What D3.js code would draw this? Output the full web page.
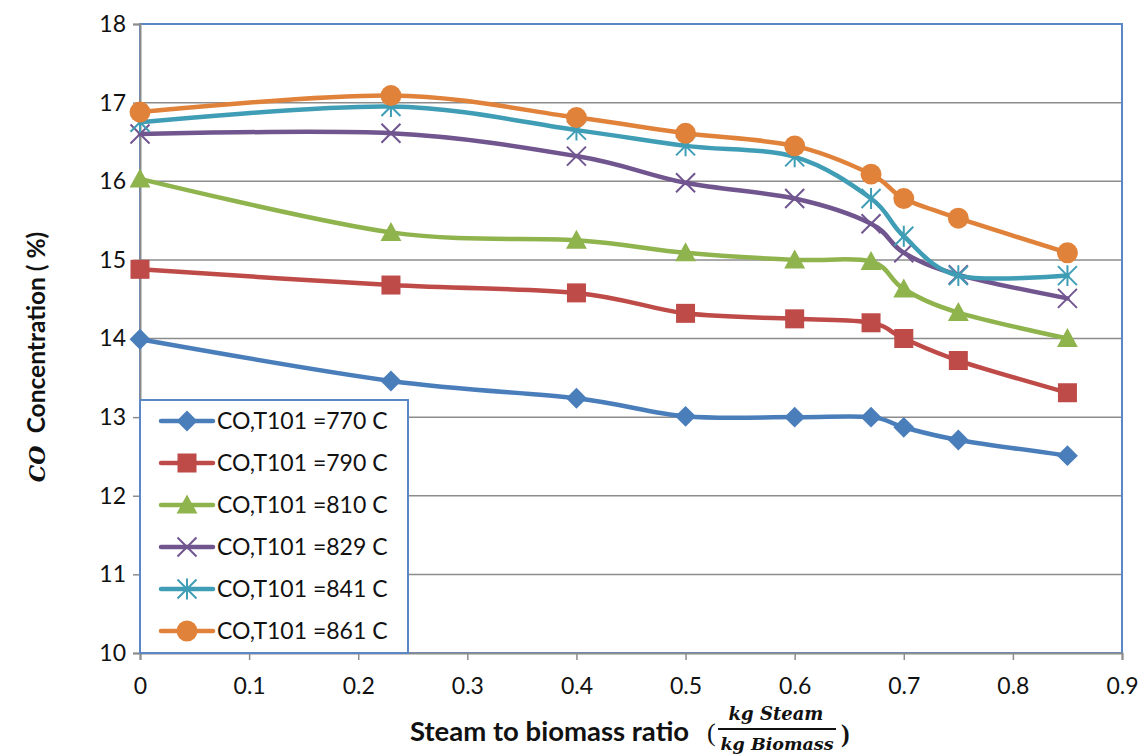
<!DOCTYPE html>
<html>
<head>
<meta charset="utf-8">
<script src="https://cdn.jsdelivr.net/npm/d3@7"></script>
<style>
  html, body { margin: 0; padding: 0; background: #fff; }
  svg { display: block; }
  .tick text { font-family: Lato, "Open Sans", sans-serif; font-size: 23px; fill: #111; }
</style>
</head>
<body>
<svg id="chart" width="1142" height="755"></svg>
<script>
// Steam-to-biomass ratio (x) and CO concentration (%) for each reactor temperature
const ratios = [0, 0.23, 0.4, 0.5, 0.6, 0.67, 0.7, 0.75, 0.85];
const seriesNames = ["CO,T101 =770 C", "CO,T101 =790 C", "CO,T101 =810 C",
                     "CO,T101 =829 C", "CO,T101 =841 C", "CO,T101 =861 C"];
const co770 = [13.99, 13.46, 13.24, 13.01, 13.0, 13.0, 12.87, 12.71, 12.51];
const co790 = [14.88, 14.68, 14.58, 14.32, 14.25, 14.2, 14.0, 13.72, 13.31];
const co810 = [16.03, 15.35, 15.25, 15.09, 15.0, 14.98, 14.63, 14.33, 14.0];
const co829 = [16.6, 16.61, 16.32, 15.98, 15.78, 15.46, 15.09, 14.81, 14.51];
const co841 = [16.75, 16.95, 16.65, 16.45, 16.31, 15.78, 15.3, 14.8, 14.8];
const co861 = [16.88, 17.09, 16.81, 16.61, 16.45, 16.09, 15.78, 15.53, 15.09];
const xTicks = [0, 0.1, 0.2, 0.3, 0.4, 0.5, 0.6, 0.7, 0.8, 0.9];
const yTicks = [10, 11, 12, 13, 14, 15, 16, 17, 18];

const colors = ["#4a7ebb", "#be4b48", "#8fb34d", "#70558f", "#3f9db5", "#e0823a"];
const symbols = ["diamond", "square", "triangle", "cross", "star", "circle"];
const allSeries = [co770, co790, co810, co829, co841, co861];

const svg = d3.select("#chart");
const m = { left: 140, right: 1122, top: 24, bottom: 653 };

const x = d3.scaleLinear().domain([0, 0.9]).range([m.left, m.right]);
const y = d3.scaleLinear().domain([10, 18]).range([m.bottom, m.top]);

// horizontal gridlines
svg.append("g")
  .selectAll("line")
  .data(yTicks.slice(1))
  .join("line")
  .attr("x1", m.left).attr("x2", m.right)
  .attr("y1", d => y(d)).attr("y2", d => y(d))
  .attr("stroke", "#8c8c8c").attr("stroke-width", 1.5);

// plot area frame
svg.append("rect")
  .attr("x", m.left).attr("y", m.top)
  .attr("width", m.right - m.left).attr("height", m.bottom - m.top)
  .attr("fill", "none").attr("stroke", "#5b87c4").attr("stroke-width", 2);

// axes
const xAxis = svg.append("g")
  .attr("transform", `translate(0,${m.bottom})`)
  .call(d3.axisBottom(x).tickValues(xTicks).tickSize(7).tickPadding(14)
        .tickFormat(d => d === 0 ? "0" : d3.format(".1f")(d)));
const yAxis = svg.append("g")
  .attr("transform", `translate(${m.left},0)`)
  .call(d3.axisLeft(y).tickValues(yTicks).tickSize(7).tickPadding(7));
[xAxis, yAxis].forEach(a => {
  a.select(".domain").attr("stroke", "#8c8c8c").attr("stroke-width", 2);
  a.selectAll(".tick line").attr("stroke", "#8c8c8c").attr("stroke-width", 1.5);
});
xAxis.selectAll(".tick text").attr("dy", "0.85em");

// marker shapes
function marker(g, type, color, size) {
  const s = size;
  if (type === "diamond") {
    g.append("path").attr("d", `M0,${-s * 0.55}L${s * 0.55},0L0,${s * 0.55}L${-s * 0.55},0Z`).attr("fill", color);
  } else if (type === "square") {
    g.append("rect").attr("x", -s * 0.5).attr("y", -s * 0.5).attr("width", s).attr("height", s).attr("fill", color);
  } else if (type === "triangle") {
    g.append("path").attr("d", `M0,${-s * 0.55}L${s * 0.55},${s * 0.45}L${-s * 0.55},${s * 0.45}Z`).attr("fill", color);
  } else if (type === "circle") {
    g.append("circle").attr("r", s * 0.55).attr("fill", color);
  } else if (type === "cross") {
    const h = s * 0.5;
    g.append("path").attr("d", `M${-h},${-h}L${h},${h}M${-h},${h}L${h},${-h}`)
      .attr("stroke", color).attr("stroke-width", 2).attr("fill", "none");
  } else if (type === "star") {
    const h = s * 0.5;
    g.append("path").attr("d", `M${-h},${-h}L${h},${h}M${-h},${h}L${h},${-h}M0,${-h * 1.1}L0,${h * 1.1}`)
      .attr("stroke", color).attr("stroke-width", 2).attr("fill", "none");
  }
}

const line = d3.line()
  .x((d, i) => x(ratios[i]))
  .y(d => y(d))
  .curve(d3.curveCatmullRom.alpha(0));

const seriesG = svg.append("g");
allSeries.forEach((vals, k) => {
  const g = seriesG.append("g");
  g.append("path")
    .attr("d", line(vals))
    .attr("fill", "none")
    .attr("stroke", colors[k])
    .attr("stroke-width", 4.5)
    .attr("stroke-linecap", "round");
  vals.forEach((v, i) => {
    const mg = g.append("g").attr("transform", `translate(${x(ratios[i])},${y(v)})`);
    marker(mg, symbols[k], colors[k], 19);
  });
});

// legend
const leg = svg.append("g");
leg.append("rect")
  .attr("x", 140).attr("y", 400).attr("width", 268).attr("height", 253)
  .attr("fill", "#fff").attr("stroke", "#5b87c4").attr("stroke-width", 2);
seriesNames.forEach((name, k) => {
  const cy = 421 + k * 42;
  leg.append("line")
    .attr("x1", 161).attr("x2", 213).attr("y1", cy).attr("y2", cy)
    .attr("stroke", colors[k]).attr("stroke-width", 4.5).attr("stroke-linecap", "round");
  const mg = leg.append("g").attr("transform", `translate(187,${cy})`);
  marker(mg, symbols[k], colors[k], 19);
  leg.append("text")
    .attr("x", 217).attr("y", cy).attr("dy", "0.36em")
    .attr("font-family", "Lato, 'Open Sans', sans-serif").attr("font-size", 23)
    .attr("fill", "#111")
    .text(name);
});

// y-axis title
const yt = svg.append("text")
  .attr("transform", "translate(45,357) rotate(-90)")
  .attr("text-anchor", "middle")
  .attr("font-family", "Lato, 'Open Sans', sans-serif")
  .attr("font-weight", "bold").attr("font-size", 24.5).attr("fill", "#111");
yt.append("tspan").attr("font-family", "'DejaVu Serif', 'Liberation Serif', serif")
  .attr("font-style", "italic").attr("font-size", 22).text("CO");
yt.append("tspan").text("\u2002Concentration ( %)");

// x-axis title with fraction
svg.append("text")
  .attr("x", 410).attr("y", 741)
  .attr("font-family", "Lato, 'Open Sans', sans-serif")
  .attr("font-weight", "bold").attr("font-size", 27.5).attr("fill", "#111")
  .text("Steam to biomass ratio");
svg.append("text")
  .attr("x", 707).attr("y", 741)
  .attr("font-family", "'Liberation Serif', serif")
  .attr("font-size", 26).attr("fill", "#111").text("(");
svg.append("text")
  .attr("x", 776).attr("y", 720).attr("text-anchor", "middle")
  .attr("font-family", "'DejaVu Serif', serif").attr("font-style", "italic")
  .attr("font-weight", "bold").attr("font-size", 18).attr("fill", "#111")
  .text("kg Steam");
svg.append("line")
  .attr("x1", 718).attr("x2", 836).attr("y1", 729).attr("y2", 729)
  .attr("stroke", "#111").attr("stroke-width", 2);
svg.append("text")
  .attr("x", 777).attr("y", 750).attr("text-anchor", "middle")
  .attr("font-family", "'DejaVu Serif', serif").attr("font-style", "italic")
  .attr("font-weight", "bold").attr("font-size", 17.5).attr("fill", "#111")
  .text("kg Biomass");
svg.append("text")
  .attr("x", 841).attr("y", 742)
  .attr("font-family", "'Liberation Serif', serif").attr("font-weight", "bold")
  .attr("font-size", 26).attr("fill", "#111").text(")");
</script>
</body>
</html>
